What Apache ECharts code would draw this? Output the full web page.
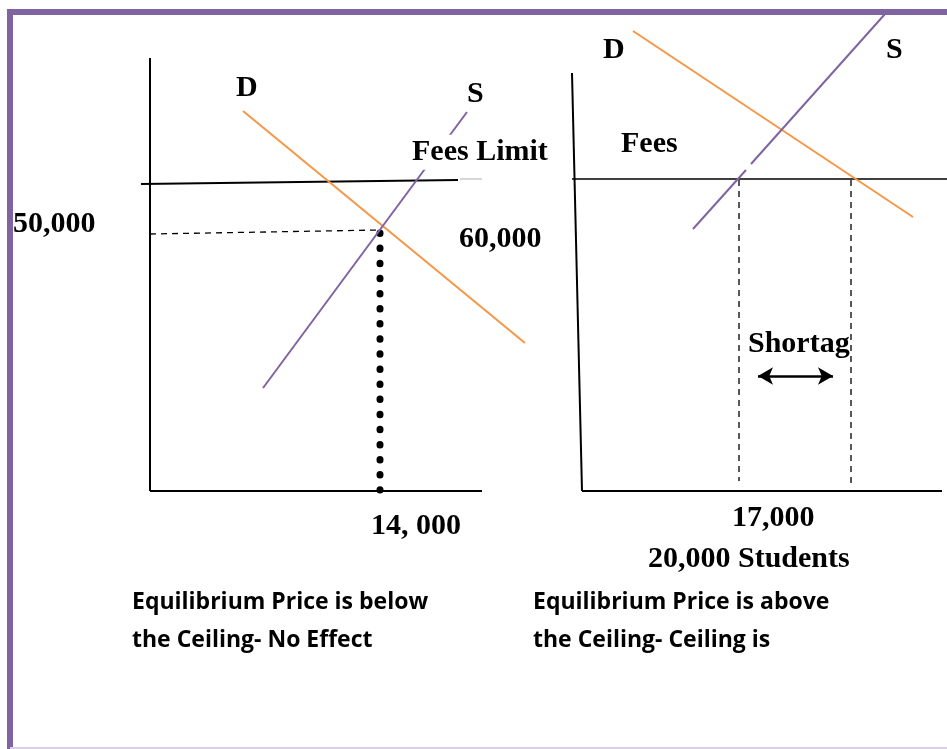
<!DOCTYPE html>
<html>
<head>
<meta charset="utf-8">
<script src="https://cdn.jsdelivr.net/npm/echarts@6/dist/echarts.min.js"></script>
<style>
html,body{margin:0;padding:0;background:#fff;}
#chart{width:947px;height:749px;}
</style>
</head>
<body>
<div id="chart"></div>
<script>
// ---- Left panel (equilibrium below ceiling), axis units measured from the origin ----
const leftAxisX = [[0, 0], [332, 0]];
const leftAxisY = [[0, 0], [0, 433]];
const leftDemand = [[93, 380], [375, 148]];
const leftSupply = [[113, 103], [317, 379]];
const leftCeiling = [[-9, 307], [308, 311]];
const leftCeilingFaint = [[310, 312], [332, 312]];
const leftPriceGuide = [[0, 257], [230, 261]];
const leftQtyGuide = [[230, 258], [230, 1]];

// ---- Right panel (equilibrium above ceiling) ----
const rightAxisX = [[0, 0], [360, 0]];
const rightAxisY = [[-10, 418], [0, 0]];
const rightCeiling = [[-10, 312], [365, 312]];
const rightDemand = [[51, 460], [331, 274]];
const rightSupplyLow = [[111, 262], [164, 321]];
const rightSupplyHigh = [[169, 327], [303, 477]];
const rightQtySupplied = [[157, 311], [157, 10]];
const rightQtyDemanded = [[269, 311], [269, 8]];
const rightShortageArrow = [[176, 115], [251, 115]];

// ---- Labels ----
const serifLabels = [
  ['D', 236, 97], ['S', 467, 103], ['50,000', 13, 233], ['60,000', 459, 248],
  ['14, 000', 371, 535], ['D', 603, 59], ['S', 886, 59], ['Fees', 621, 153],
  ['Shortag', 748, 353], ['17,000', 732, 527], ['20,000 Students', 648, 568]
];
const captionLines = [
  ['Equilibrium Price is below', 132, 609], ['the Ceiling- No Effect', 132, 647],
  ['Equilibrium Price is above', 533, 609], ['the Ceiling- Ceiling is', 533, 647]
];

const ORANGE = '#f79646', PURPLE = '#8064a2';
const chart = echarts.init(document.getElementById('chart'));

function seg(data, grid, color, width, type, extra) {
  return Object.assign({
    type: 'line', xAxisIndex: grid, yAxisIndex: grid, data: data,
    symbol: 'none', clip: false, silent: true, animation: false,
    lineStyle: { color: color, width: width, type: type || 'solid' }
  }, extra || {});
}
function hiddenAxis(i, min, max) {
  return { gridIndex: i, type: 'value', min: min, max: max, show: false,
    axisLine: { show: false }, axisTick: { show: false }, axisLabel: { show: false }, splitLine: { show: false } };
}

const SERIF = 'bold 30px "Liberation Serif", "Times New Roman", serif';
const SANS = 'bold 23px "Open Sans", sans-serif';
const graphics = [
  { type: 'rect', z: 50, shape: { x: 10, y: 12, width: 960, height: 760 },
    style: { fill: 'none', stroke: PURPLE, lineWidth: 6 } },
  { type: 'line', z: 50, shape: { x1: 10, y1: 748, x2: 947, y2: 748 },
    style: { stroke: '#d9d0e8', lineWidth: 2 } }
];
serifLabels.forEach(function (l) {
  graphics.push({ type: 'text', z: 100, x: l[1], y: l[2] - 9.2,
    style: { text: l[0], font: SERIF, fill: '#000', textAlign: 'left', textVerticalAlign: 'middle', verticalAlign: 'middle' } });
});
graphics.push({ type: 'text', z: 100, x: 410, y: 163 - 9.2 - 1.5,
  style: { text: 'Fees Limit', font: SERIF, fill: '#000', backgroundColor: '#fff', padding: [4, 2, 1, 2],
    textAlign: 'left', textVerticalAlign: 'middle', verticalAlign: 'middle' } });
captionLines.forEach(function (l) {
  graphics.push({ type: 'text', z: 100, x: l[1], y: l[2] - 6.6,
    style: { text: l[0], font: SANS, fill: '#000', textAlign: 'left', textVerticalAlign: 'middle', verticalAlign: 'middle' } });
});

chart.setOption({
  animation: false,
  backgroundColor: '#fff',
  grid: [
    // left panel: origin at (150, 491); axes span x -20..400, y -10..440
    { left: 130, top: 51, width: 420, height: 450 },
    // right panel: origin at (582, 491); axes span x -20..365, y -10..490
    { left: 562, top: 1, width: 385, height: 500 }
  ],
  xAxis: [hiddenAxis(0, -20, 400), hiddenAxis(1, -20, 365)],
  yAxis: [hiddenAxis(0, -10, 440), hiddenAxis(1, -10, 490)],
  graphic: graphics,
  series: [
    seg(leftAxisX, 0, '#000', 2),
    seg(leftAxisY, 0, '#000', 2),
    seg(leftCeiling, 0, '#000', 2),
    seg(leftCeilingFaint, 0, '#c8c8c8', 1.5),
    seg(leftPriceGuide, 0, '#000', 1.3, [6, 5]),
    seg(leftQtyGuide, 0, '#000', 7, 'solid', { lineStyle: { color: '#000', width: 7, type: [0.5, 14.6], cap: 'round' } }),
    seg(leftDemand, 0, ORANGE, 2),
    seg(leftSupply, 0, PURPLE, 2),
    seg(rightAxisX, 1, '#000', 2),
    seg(rightAxisY, 1, '#000', 2),
    seg(rightCeiling, 1, '#000', 1.5),
    seg(rightQtySupplied, 1, '#000', 1.3, [6, 5]),
    seg(rightQtyDemanded, 1, '#000', 1.3, [6, 5]),
    seg(rightDemand, 1, ORANGE, 2),
    seg(rightSupplyLow, 1, PURPLE, 2),
    seg(rightSupplyHigh, 1, PURPLE, 2),
    seg([], 1, '#000', 2.5, 'solid', {
      markLine: {
        silent: true, animation: false, symbol: ['arrow', 'arrow'], symbolSize: [13, 15],
        label: { show: false },
        lineStyle: { color: '#000', width: 2.5, type: 'solid' },
        data: [[{ coord: rightShortageArrow[0] }, { coord: rightShortageArrow[1] }]]
      }
    })
  ]
});
</script>
</body>
</html>
